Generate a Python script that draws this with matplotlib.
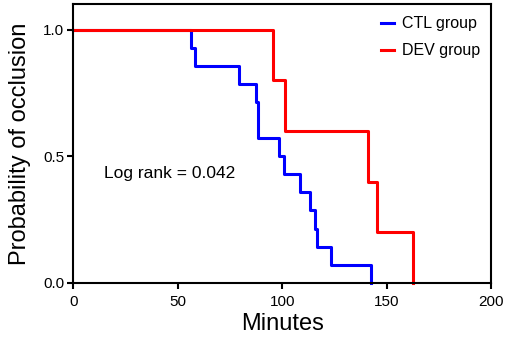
import matplotlib
matplotlib.use("Agg")
import matplotlib.pyplot as plt

# survival curves (minutes, probability)
ctl_time = [0, 56.2, 58.3, 79.4, 87.4, 88.3, 98.4, 101.0, 108.6, 113.4, 115.5, 116.5, 123.2, 142.7]
ctl_surv = [1.0, 0.929, 0.857, 0.786, 0.714, 0.571, 0.500, 0.429, 0.357, 0.286, 0.214, 0.143, 0.071, 0.0]
dev_time = [0, 95.4, 101.3, 141.1, 145.2, 162.5]
dev_surv = [1.0, 0.8, 0.6, 0.4, 0.2, 0.0]

x_ticks = [0, 50, 100, 150, 200]
y_ticks = [0.0, 0.5, 1.0]

plt.rcParams["font.family"] = ["Liberation Sans", "DejaVu Sans"]

fig = plt.figure(figsize=(5.1, 3.4), dpi=100)
ax = fig.add_axes([0.1441, 0.1685, 0.8186, 0.8183])

ax.step(ctl_time, ctl_surv, where="post", color="#0000ff", lw=2.2, label="CTL group", clip_on=False)
ax.step(dev_time, dev_surv, where="post", color="#ff0000", lw=2.2, label="DEV group", clip_on=False)

ax.set_xlim(0, 200)
ax.set_ylim(0, 1.1)
ax.set_xticks(x_ticks)
ax.set_yticks(y_ticks)
ax.set_yticklabels(["%.1f" % v for v in y_ticks])
ax.tick_params(direction="out", length=4.5, width=1.5, labelsize=11)
ax.tick_params(axis="x", pad=4.5)
ax.tick_params(axis="y", pad=2)
for s in ax.spines.values():
    s.set_linewidth(1.5)

ax.set_xlabel("Minutes", fontsize=17, labelpad=3)
ax.set_ylabel("Probability of occlusion", fontsize=17, labelpad=9)

ax.text(14.6, 0.43, "Log rank = 0.042", fontsize=12.5, va="center", ha="left")

ax.legend(loc="upper left", bbox_to_anchor=(0.737, 0.958), frameon=False, fontsize=11.5,
          handlelength=0.8, handletextpad=0.5, labelspacing=0.75, borderpad=0, borderaxespad=0)

fig.savefig("out.png", dpi=100)
